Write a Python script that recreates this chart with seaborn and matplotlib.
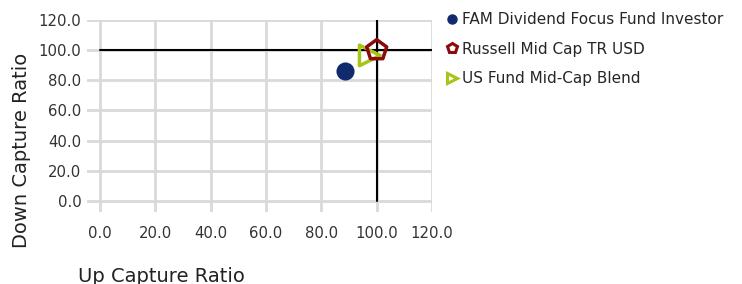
import numpy as np
import pandas as pd
import seaborn as sns
import matplotlib.pyplot as plt
from matplotlib.lines import Line2D

# data
names = ["FAM Dividend Focus Fund Investor", "Russell Mid Cap TR USD", "US Fund Mid-Cap Blend"]
up_capture = [88.5, 100.0, 97.5]
down_capture = [86.5, 100.0, 96.5]
ticks = [0, 20, 40, 60, 80, 100, 120]

colors = ['#112a6e', '#8a0b0b', '#a9c418']

df = pd.DataFrame({'name': names, 'up': up_capture, 'down': down_capture})

sns.set_style('white')
plt.rcParams['font.family'] = ['DejaVu Sans']

fig = plt.figure(figsize=(7.42, 2.84), dpi=100)
ax = fig.add_axes([87 / 742, 1 - 212 / 284, (432 - 87) / 742, (212 - 20) / 284])

ax.set_xlim(-4.7, 120)
ax.set_ylim(-7.3, 120)
ax.set_xticks(ticks)
ax.set_yticks(ticks)
ax.set_xticklabels([f"{t:.1f}" for t in ticks], fontsize=10.7, color='#333333')
ax.set_yticklabels([f"{t:.1f}" for t in ticks], fontsize=10.7, color='#333333')
ax.tick_params(length=0, pad=4)
ax.tick_params(axis='x', pad=10)
ax.grid(True, color='#d9d9d9', lw=2)
ax.set_axisbelow(True)
for s in ax.spines.values():
    s.set_visible(False)

# reference lines at 100
ax.plot([0, 120], [100, 100], color='black', lw=1.5, zorder=2)
ax.plot([100, 100], [0, 120], color='black', lw=1.5, zorder=2)

# points
sub = df.iloc[[0]]
sns.scatterplot(data=sub, x='up', y='down', color=colors[0], marker='o', s=170,
                edgecolor=colors[0], linewidth=0, ax=ax, zorder=3, legend=False)
sub = df.iloc[[2]]
sns.scatterplot(data=sub, x='up', y='down', marker='>', s=220, facecolor='none',
                edgecolor=colors[2], linewidth=2.5, ax=ax, zorder=4, legend=False)
sub = df.iloc[[1]]
sns.scatterplot(data=sub, x='up', y='down', marker='p', s=230, facecolor='none',
                edgecolor=colors[1], linewidth=2.5, ax=ax, zorder=5, legend=False)

ax.set_xlabel('')
ax.set_ylabel('')
fig.text(78 / 742, 1 - 276 / 284, 'Up Capture Ratio', fontsize=14, va='center', ha='left', color='#222222')
fig.text(22 / 742, 1 - 150 / 284, 'Down Capture Ratio', fontsize=14, va='center', ha='center',
         rotation=90, color='#222222')

handles = [
    Line2D([], [], marker='o', linestyle='none', color=colors[0], markersize=6.5),
    Line2D([], [], marker='p', linestyle='none', markerfacecolor='white', markeredgecolor=colors[1],
           markeredgewidth=2.2, markersize=7),
    Line2D([], [], marker='>', linestyle='none', markerfacecolor='white', markeredgecolor=colors[2],
           markeredgewidth=2.2, markersize=7),
]
fig.legend(handles, names, loc='upper left', bbox_to_anchor=(441 / 742, 1 - 6 / 284), frameon=False,
           fontsize=11, handlelength=0.6, handletextpad=0.35, labelspacing=0.95, borderaxespad=0)

fig.savefig('out.png', dpi=100)
